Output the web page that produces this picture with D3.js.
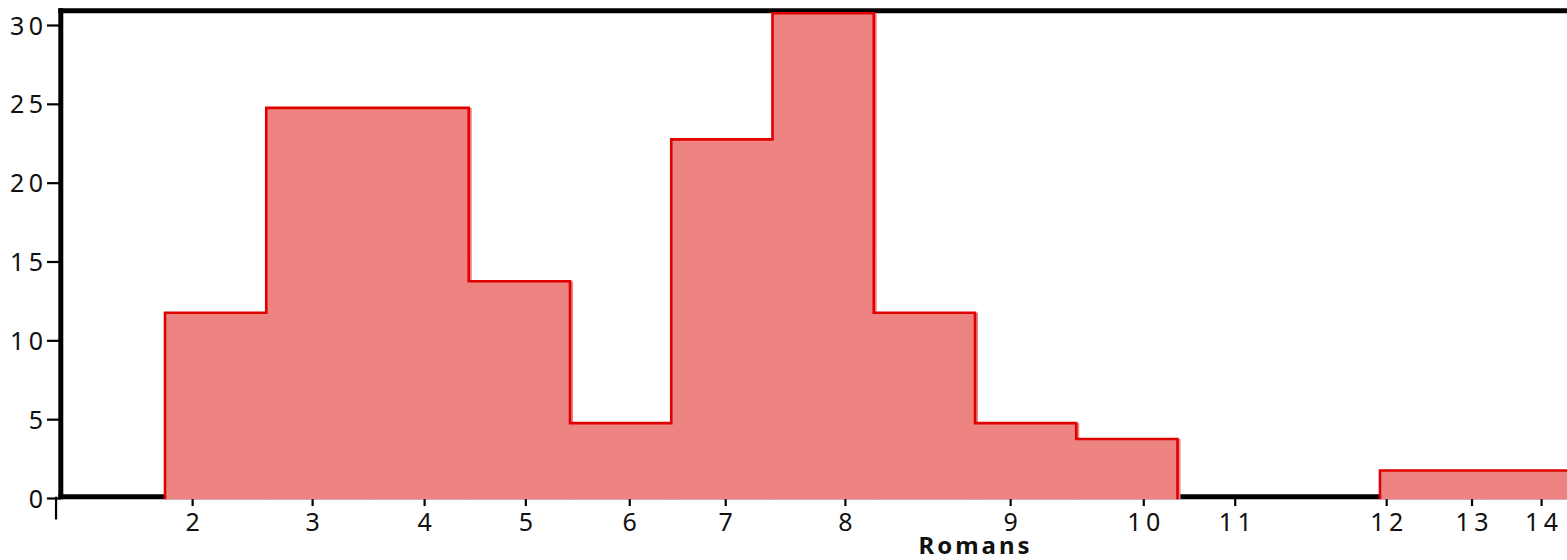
<!DOCTYPE html>
<html>
<head>
<meta charset="utf-8">
<script src="https://cdn.jsdelivr.net/npm/d3@7"></script>
<style>
  html, body { margin: 0; padding: 0; background: #fff; }
  svg { display: block; }
  text { font-family: "Noto Sans", "Open Sans", sans-serif; fill: #111; }
</style>
</head>
<body>
<svg id="chart" width="1567" height="560"></svg>
<script>
// ---- data ----
const binIndex = [0, 1, 2, 3, 4, 5, 6, 7, 8, 9, 10, 11, 12, 13];
const counts   = [12, 25, 25, 14, 5, 23, 31, 12, 5, 4, 0, 0, 2, 2];
const xTickLabels = ["2", "3", "4", "5", "6", "7", "8", "9", "10", "11", "12", "13", "14"];
const xTickPos    = [0.273, 1.458, 2.564, 3.564, 4.590, 5.538, 6.720, 8.352, 9.667, 10.570, 12.066, 12.909, 13.596];
const xOriginTick = [-1.076];
const yTicks = [0, 5, 10, 15, 20, 25, 30];
const xTitle = "Romans";

// ---- layout ----
const W = 1567, H = 560;
const svg = d3.select("#chart");
const x = d3.scaleLinear().domain([0, 14]).range([165, 165 + 14 * 101.25]);
const y = d3.scaleLinear().domain([0, 30]).range([498.5, 25.5]);
const frameLeft = 60.8, frameTop = 10.8, frameBottom = 496.7;
const fillColor = "#ee8482", strokeColor = "#e00000";
const dataShift = 3.5;
const labelLS = 4.5;

// clip for data
svg.append("defs").append("clipPath").attr("id", "plotclip")
  .append("rect").attr("x", 0).attr("y", 0).attr("width", W).attr("height", 499.3);

// ---- y ticks ----
const yAxisG = svg.append("g");
yAxisG.selectAll("line").data(yTicks).enter().append("line")
  .attr("x1", 47).attr("x2", frameLeft)
  .attr("y1", d => y(d)).attr("y2", d => y(d))
  .attr("stroke", "#000").attr("stroke-width", 2.2);
yAxisG.selectAll("text").data(yTicks).enter().append("text")
  .attr("x", 43 + labelLS).attr("y", d => y(d)).attr("dy", "0.36em")
  .attr("text-anchor", "end")
  .style("font-size", "25px").style("letter-spacing", labelLS + "px")
  .text(d => d);

// ---- x ticks ----
const xAxisG = svg.append("g");
xAxisG.selectAll("line.t").data(xTickPos).enter().append("line").attr("class", "t")
  .attr("x1", d => x(d)).attr("x2", d => x(d))
  .attr("y1", frameBottom).attr("y2", 506)
  .attr("stroke", "#000").attr("stroke-width", 2.2);
xAxisG.selectAll("line.o").data(xOriginTick).enter().append("line").attr("class", "o")
  .attr("x1", d => x(d)).attr("x2", d => x(d))
  .attr("y1", frameBottom).attr("y2", 519.5)
  .attr("stroke", "#000").attr("stroke-width", 2.2);
xAxisG.selectAll("text").data(xTickPos).enter().append("text")
  .attr("x", d => x(d) + labelLS / 2).attr("y", 531)
  .attr("text-anchor", "middle")
  .style("font-size", "25px").style("letter-spacing", labelLS + "px")
  .text((d, i) => xTickLabels[i]);

// ---- frame ----
const frame = svg.append("g").attr("stroke", "#000").attr("stroke-width", 5);
frame.append("line").attr("x1", frameLeft - 2.5).attr("x2", W).attr("y1", frameTop).attr("y2", frameTop);
frame.append("line").attr("x1", frameLeft).attr("x2", frameLeft).attr("y1", frameTop - 2.5).attr("y2", frameBottom + 2.5);
frame.append("line").attr("x1", frameLeft - 2.5).attr("x2", W).attr("y1", frameBottom).attr("y2", frameBottom);

// ---- data ----
const dataG = svg.append("g").attr("clip-path", "url(#plotclip)")
  .append("g").attr("transform", `translate(0,${dataShift})`);

dataG.selectAll("rect").data(binIndex.filter((d, i) => counts[i] > 0)).enter().append("rect")
  .attr("x", d => x(d))
  .attr("width", d => x(d + 1) - x(d) + 3)
  .attr("y", d => y(counts[d]))
  .attr("height", d => y(0) - y(counts[d]) + 5)
  .attr("fill", fillColor);

// step outline for runs of non-zero bins
const runs = [];
let cur = null;
binIndex.forEach((b, i) => {
  if (counts[i] > 0) {
    if (!cur) { cur = [[b, 0]]; runs.push(cur); }
    cur.push([b, counts[i]]);
    cur.push([b + 1, counts[i]]);
  } else if (cur) {
    cur.push([b, 0]);
    cur = null;
  }
});
if (cur) cur.push([cur[cur.length - 1][0], 0]);

const line = d3.line().x(d => x(d[0])).y(d => y(d[1]));
dataG.selectAll("path").data(runs).enter().append("path")
  .attr("d", line)
  .attr("fill", "none")
  .attr("stroke", strokeColor)
  .attr("stroke-width", 2.6)
  .attr("stroke-linejoin", "miter");

// ---- x title ----
svg.append("text")
  .attr("x", 974 + 1.5).attr("y", 554)
  .attr("text-anchor", "middle")
  .style("font-size", "24px").style("font-weight", "bold")
  .style("letter-spacing", "3px")
  .text(xTitle);
</script>
</body>
</html>
